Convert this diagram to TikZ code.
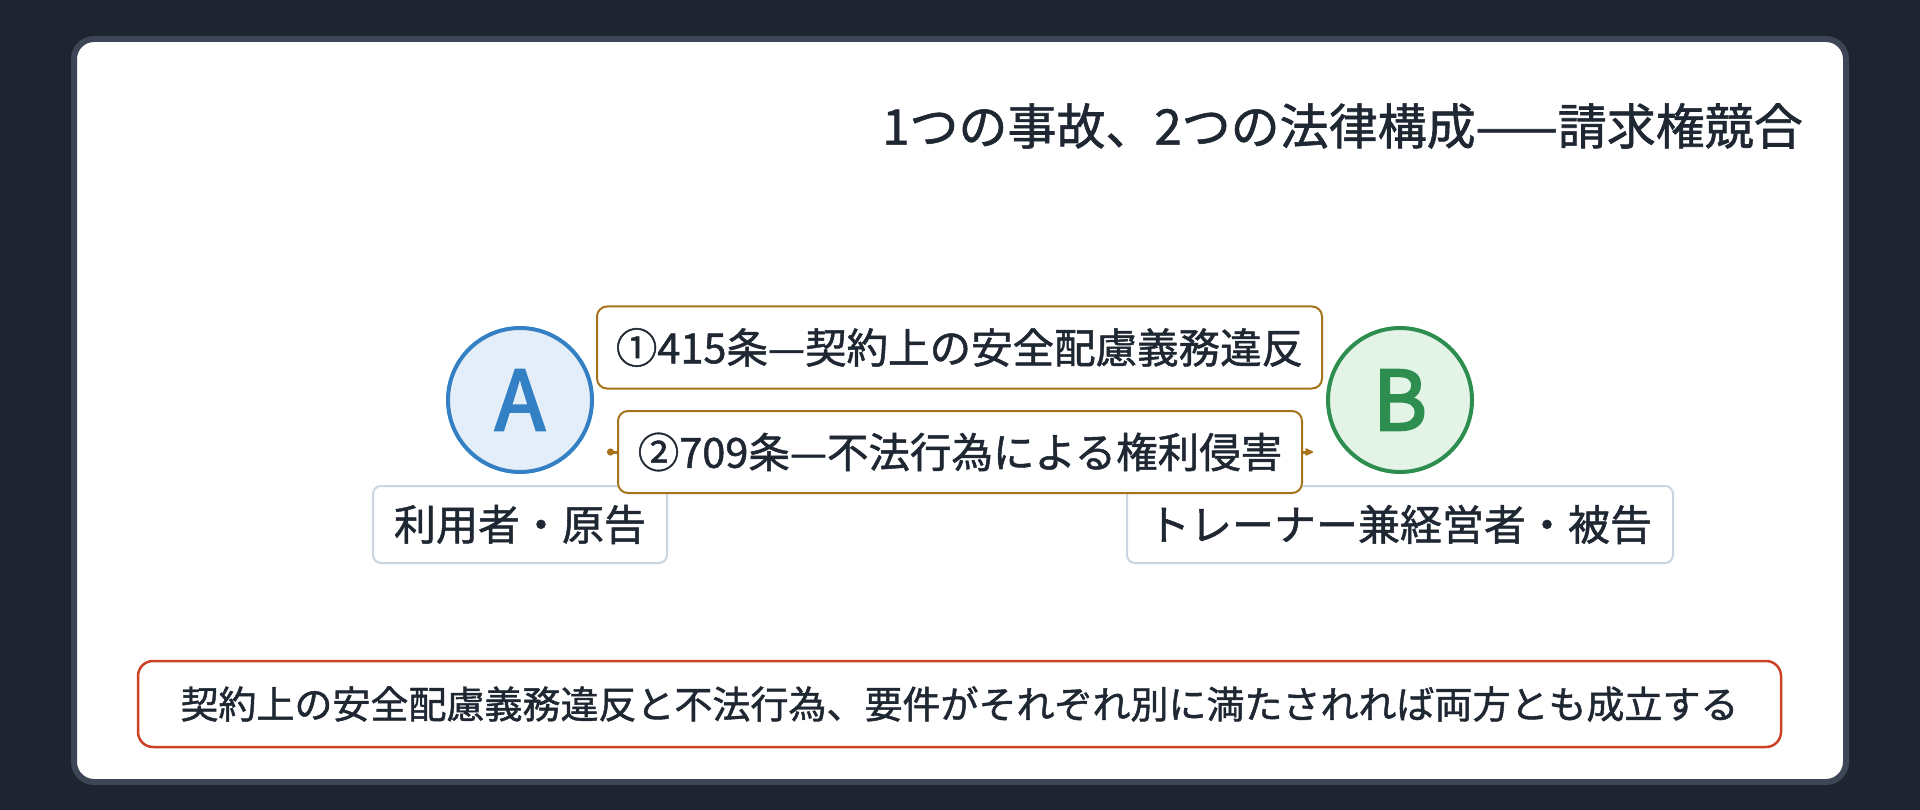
\documentclass[tikz,border=0pt]{standalone}
\usepackage{fontspec}
\setmainfont{Noto Sans CJK JP}[FakeBold=1.2]
\newfontfamily\letterfont{Noto Sans CJK JP}[FakeBold=3]
\usetikzlibrary{arrows.meta}
\definecolor{bgdark}{HTML}{1F2530}
\definecolor{framec}{HTML}{3D4656}
\definecolor{txt}{HTML}{1E2732}
\definecolor{acol}{HTML}{3380C4}
\definecolor{afill}{HTML}{E4EEF9}
\definecolor{bcol}{HTML}{2E8E50}
\definecolor{bfill}{HTML}{E3F4E7}
\definecolor{brown}{HTML}{A6731C}
\definecolor{lblc}{HTML}{CBD5E1}
\definecolor{redc}{HTML}{CC4127}
\tikzset{
  party/.style={circle, line width=4pt, minimum size=144pt, inner sep=0pt, font=\letterfont\fontsize{82}{82}\selectfont},
  lawbox/.style={draw=brown, line width=2pt, fill=white, rounded corners=10pt, inner sep=0pt, minimum height=82pt, text=txt, font=\fontsize{41.5}{44}\selectfont},
  lblbox/.style={draw=lblc, line width=2pt, fill=white, rounded corners=8pt, inner sep=0pt, minimum height=77pt, text=txt, font=\fontsize{42}{44}\selectfont},
  notebox/.style={draw=redc, line width=2.5pt, fill=white, rounded corners=15pt, inner sep=0pt, minimum height=86pt, text=txt, font=\fontsize{38}{42}\selectfont},
  conn/.style={draw=brown, line width=3pt, {Circle[length=7pt,width=7pt]}-{Stealth[length=11pt,width=10pt,round]}}
}
\begin{document}
\begin{tikzpicture}[x=1pt,y=-1pt]
\useasboundingbox (0,0) rectangle (1920,810);
\fill[bgdark] (0,0) rectangle (1920,810);
\draw[framec, line width=6pt, fill=white, rounded corners=20pt] (74,39) rectangle (1846,782);
\node[anchor=east, text=txt, font=\fontsize{49}{52}\selectfont, inner sep=0pt] (title) at (1803,126) {1つの事故、2つの法律構成——請求権競合};
\node[party, draw=acol, fill=afill, text=acol] (A) at (520,400) {A};
\node[party, draw=bcol, fill=bfill, text=bcol] (B) at (1400,400) {B};
\node[lblbox, minimum width=294pt] (la) at (520,524.5) {利用者・原告};
\node[lblbox, minimum width=546pt] (lb) at (1400,524.5) {トレーナー兼経営者・被告};
\path (A.center) ++(87,52) coordinate (a1);
\path (B.center) ++(-87,52) coordinate (b1);
\draw[conn] (a1) -- (b1);
\node[lawbox, minimum width=725pt] (law1) at (959.5,347.5) {①415条—契約上の安全配慮義務違反};
\node[lawbox, minimum width=684pt] (law2) at (960,452) {②709条—不法行為による権利侵害};
\node[notebox, minimum width=1643pt] (note) at (959.5,704) {契約上の安全配慮義務違反と不法行為、要件がそれぞれ別に満たされれば両方とも成立する};
\end{tikzpicture}
\end{document}
